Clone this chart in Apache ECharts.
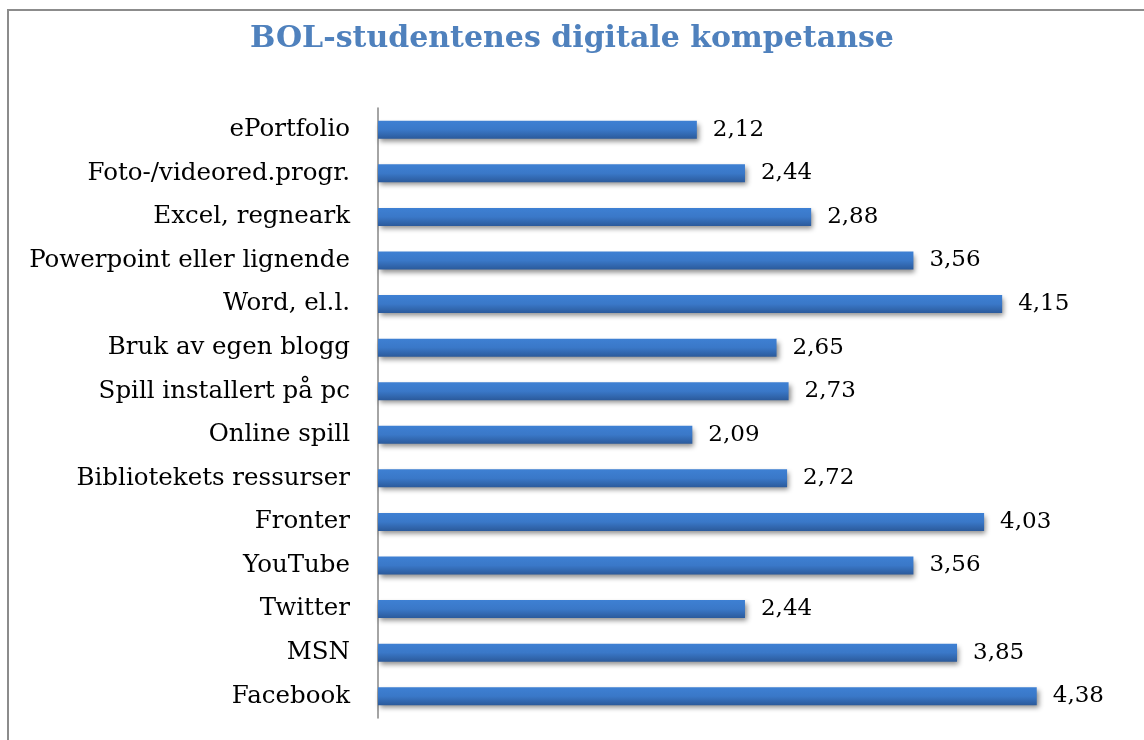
<!DOCTYPE html>
<html>
<head>
<meta charset="utf-8">
<script src="https://cdn.jsdelivr.net/npm/echarts@6/dist/echarts.min.js"></script>
<style>
  html, body { margin: 0; padding: 0; background: #fff; }
  #chart { width: 1144px; height: 740px; }
</style>
</head>
<body>
<div id="chart"></div>
<script>
var categories = ['ePortfolio', 'Foto-/videored.progr.', 'Excel, regneark', 'Powerpoint eller lignende',
  'Word, el.l.', 'Bruk av egen blogg', 'Spill installert på pc', 'Online spill',
  'Bibliotekets ressurser', 'Fronter', 'YouTube', 'Twitter', 'MSN', 'Facebook'];
var values = [2.12, 2.44, 2.88, 3.56, 4.15, 2.65, 2.73, 2.09, 2.72, 4.03, 3.56, 2.44, 3.85, 4.38];

var serif = '"DejaVu Serif", serif';
var myChart = echarts.init(document.getElementById('chart'));
myChart.setOption({
  animation: false,
  title: {
    text: 'BOL-studentenes digitale kompetanse',
    left: 'center',
    top: 19,
    textStyle: {
      color: '#4f81bd',
      fontFamily: serif,
      fontWeight: 'bold',
      fontSize: 30
    }
  },
  graphic: [{
    type: 'rect',
    shape: { x: 8, y: 10, width: 2000, height: 2000 },
    style: { fill: 'none', stroke: '#8c8c8c', lineWidth: 2 },
    silent: true
  }],
  grid: {
    left: 378,
    top: 108,
    width: 752,
    height: 610
  },
  xAxis: {
    type: 'value',
    min: 0,
    max: 5,
    axisLabel: { show: false },
    axisLine: { show: false },
    axisTick: { show: false },
    splitLine: { show: false }
  },
  yAxis: {
    type: 'category',
    data: categories,
    inverse: true,
    axisLine: { show: true, lineStyle: { color: '#868686', width: 1.5 } },
    axisTick: { show: false },
    axisLabel: {
      margin: 28,
      color: '#000',
      fontFamily: serif,
      fontSize: 24.5
    }
  },
  series: [{
    type: 'bar',
    data: values,
    barWidth: 18,
    itemStyle: {
      color: new echarts.graphic.LinearGradient(0, 0, 0, 1, [
        { offset: 0, color: '#3e80d3' },
        { offset: 0.5, color: '#3a78c8' },
        { offset: 1, color: '#2b5a9b' }
      ]),
      shadowColor: 'rgba(0,0,0,0.45)',
      shadowBlur: 5,
      shadowOffsetX: 2,
      shadowOffsetY: 3
    },
    label: {
      show: true,
      position: 'right',
      distance: 16,
      color: '#000',
      fontFamily: serif,
      fontSize: 23,
      formatter: function (p) {
        return p.value.toFixed(2).replace('.', ',');
      }
    }
  }]
});
</script>
</body>
</html>
